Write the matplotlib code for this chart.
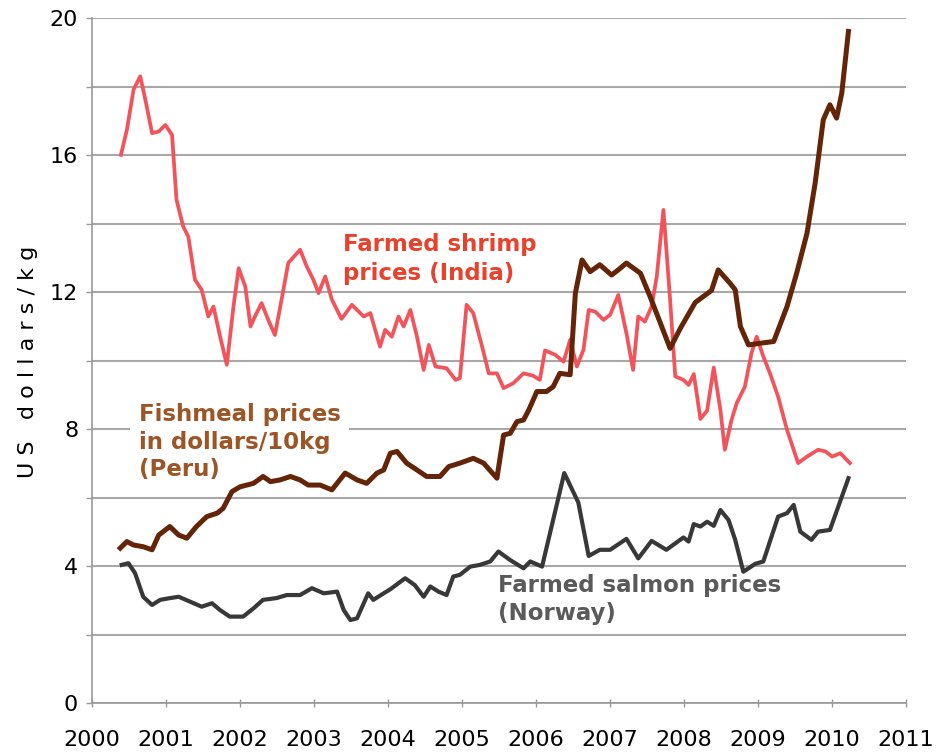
import numpy as np
import matplotlib.pyplot as plt

# Values (decimal year, US$/kg)
shrimp_year = [2000.39, 2000.47, 2000.56, 2000.65, 2000.72, 2000.81, 2000.90, 2000.99, 2001.08, 2001.14,
               2001.23, 2001.30, 2001.39, 2001.48, 2001.57, 2001.64, 2001.73, 2001.82, 2001.91, 2001.98,
               2002.07, 2002.14, 2002.20, 2002.29, 2002.38, 2002.47, 2002.56, 2002.65, 2002.81, 2002.90,
               2002.99, 2003.06, 2003.15, 2003.24, 2003.37, 2003.51, 2003.67, 2003.76, 2003.89, 2003.96,
               2004.05, 2004.14, 2004.21, 2004.30, 2004.39, 2004.48, 2004.55, 2004.64, 2004.79, 2004.91,
               2004.97, 2005.06, 2005.15, 2005.27, 2005.36, 2005.47, 2005.56, 2005.69, 2005.83, 2005.96,
               2006.05, 2006.12, 2006.26, 2006.37, 2006.46, 2006.55, 2006.64, 2006.71, 2006.80, 2006.91,
               2007.00, 2007.11, 2007.22, 2007.31, 2007.38, 2007.47, 2007.56, 2007.63, 2007.72, 2007.81,
               2007.88, 2007.99, 2008.06, 2008.13, 2008.22, 2008.31, 2008.40, 2008.49, 2008.55, 2008.64,
               2008.71, 2008.82, 2008.91, 2008.98, 2009.07, 2009.16, 2009.27, 2009.39, 2009.54, 2009.66,
               2009.81, 2009.91, 2010.00, 2010.11, 2010.24]
shrimp_val = [16.01, 16.74, 17.91, 18.30, 17.61, 16.64, 16.69, 16.88, 16.59, 14.70,
              13.92, 13.62, 12.36, 12.07, 11.29, 11.58, 10.70, 9.88, 11.58, 12.70,
              12.16, 11.00, 11.29, 11.68, 11.19, 10.75, 11.78, 12.85, 13.24, 12.75,
              12.36, 11.97, 12.46, 11.78, 11.22, 11.63, 11.29, 11.39, 10.41, 10.90,
              10.70, 11.29, 11.00, 11.48, 10.70, 9.73, 10.46, 9.83, 9.78, 9.44,
              9.49, 11.63, 11.39, 10.41, 9.63, 9.63, 9.20, 9.34, 9.63, 9.56,
              9.44, 10.30, 10.17, 9.97, 10.61, 9.83, 10.32, 11.48, 11.43, 11.19,
              11.34, 11.92, 10.80, 9.73, 11.29, 11.14, 11.58, 12.46, 14.40, 11.78,
              9.54, 9.44, 9.29, 9.61, 8.30, 8.54, 9.80, 8.56, 7.40, 8.27,
              8.76, 9.24, 10.22, 10.70, 10.12, 9.63, 8.95, 7.98, 7.01, 7.20,
              7.40, 7.35, 7.20, 7.30, 7.01]

fishmeal_year = [2000.38, 2000.47, 2000.56, 2000.69, 2000.81, 2000.90, 2001.05, 2001.17, 2001.28, 2001.41,
                 2001.55, 2001.69, 2001.77, 2001.89, 2002.00, 2002.18, 2002.31, 2002.41, 2002.54, 2002.68,
                 2002.81, 2002.92, 2003.08, 2003.24, 2003.42, 2003.58, 2003.71, 2003.85, 2003.94, 2004.03,
                 2004.12, 2004.25, 2004.39, 2004.52, 2004.70, 2004.82, 2004.97, 2005.15, 2005.29, 2005.47,
                 2005.56, 2005.65, 2005.74, 2005.83, 2005.90, 2006.01, 2006.14, 2006.23, 2006.32, 2006.46,
                 2006.53, 2006.62, 2006.73, 2006.86, 2007.02, 2007.11, 2007.22, 2007.41, 2007.54, 2007.68,
                 2007.81, 2007.95, 2008.15, 2008.37, 2008.46, 2008.62, 2008.69, 2008.76, 2008.87, 2009.03,
                 2009.21, 2009.39, 2009.52, 2009.66, 2009.77, 2009.88, 2009.97, 2010.06, 2010.13, 2010.22]
fishmeal_val = [4.53, 4.72, 4.62, 4.57, 4.48, 4.91, 5.16, 4.91, 4.82, 5.16,
                5.45, 5.55, 5.69, 6.18, 6.32, 6.42, 6.62, 6.47, 6.52, 6.62,
                6.52, 6.37, 6.37, 6.23, 6.72, 6.52, 6.42, 6.72, 6.81, 7.30,
                7.35, 7.01, 6.81, 6.62, 6.62, 6.91, 7.01, 7.15, 7.01, 6.57,
                7.83, 7.88, 8.22, 8.27, 8.56, 9.10, 9.10, 9.24, 9.63, 9.59,
                11.97, 12.94, 12.60, 12.80, 12.50, 12.65, 12.85, 12.55, 11.87, 11.09,
                10.36, 10.95, 11.70, 12.05, 12.65, 12.26, 12.07, 11.00, 10.46, 10.51,
                10.56, 11.58, 12.55, 13.72, 15.18, 17.03, 17.47, 17.08, 17.81, 19.61]

salmon_year = [2000.40, 2000.49, 2000.58, 2000.69, 2000.81, 2000.92, 2001.05, 2001.17, 2001.32, 2001.48,
               2001.62, 2001.73, 2001.86, 2002.04, 2002.18, 2002.31, 2002.49, 2002.63, 2002.81, 2002.97,
               2003.13, 2003.31, 2003.40, 2003.49, 2003.58, 2003.73, 2003.80, 2003.94, 2004.03, 2004.23,
               2004.36, 2004.48, 2004.57, 2004.68, 2004.79, 2004.88, 2004.97, 2005.11, 2005.24, 2005.38,
               2005.49, 2005.65, 2005.83, 2005.92, 2006.08, 2006.38, 2006.57, 2006.71, 2006.86, 2007.00,
               2007.22, 2007.38, 2007.56, 2007.76, 2007.99, 2008.06, 2008.13, 2008.22, 2008.31, 2008.40,
               2008.49, 2008.60, 2008.69, 2008.80, 2008.96, 2009.07, 2009.27, 2009.39, 2009.48, 2009.57,
               2009.72, 2009.81, 2009.97, 2010.22]
salmon_val = [4.04, 4.09, 3.80, 3.11, 2.87, 3.02, 3.07, 3.11, 2.97, 2.82,
              2.92, 2.72, 2.53, 2.53, 2.77, 3.02, 3.07, 3.16, 3.16, 3.36,
              3.21, 3.26, 2.72, 2.43, 2.48, 3.21, 3.02, 3.21, 3.33, 3.65,
              3.45, 3.11, 3.41, 3.26, 3.16, 3.70, 3.75, 3.99, 4.04, 4.14,
              4.43, 4.18, 3.94, 4.14, 3.99, 6.72, 5.86, 4.30, 4.48, 4.48,
              4.80, 4.23, 4.74, 4.48, 4.84, 4.72, 5.23, 5.16, 5.30, 5.18,
              5.64, 5.35, 4.77, 3.84, 4.07, 4.14, 5.45, 5.55, 5.79, 5.01,
              4.77, 5.01, 5.06, 6.57]

year_ticks = list(range(2000, 2012))

plt.rcParams['font.family'] = 'DejaVu Sans'
fig = plt.figure(figsize=(9.4, 7.53), dpi=100)
ax = fig.add_axes([0.098, 0.066, 0.866, 0.91])

ax.plot(shrimp_year, shrimp_val, color='#f2545b', lw=2.7, zorder=3, solid_joinstyle='round')
ax.plot(fishmeal_year, fishmeal_val, color='#632408', lw=3.6, zorder=4, solid_joinstyle='round')
ax.plot(salmon_year, salmon_val, color='#383838', lw=3.0, zorder=3, solid_joinstyle='round')

ax.set_xlim(2000, 2011)
ax.set_ylim(0, 20)
ax.set_xticks(year_ticks)
ax.set_yticks(range(0, 21, 4))
ax.set_yticks(range(2, 21, 4), minor=True)
ax.grid(axis='y', which='both', color='#a8a8a8', lw=1.5, zorder=0)
ax.set_axisbelow(True)

for side in ['top', 'right']:
    ax.spines[side].set_visible(False)
for side in ['left', 'bottom']:
    ax.spines[side].set_color('#999999')
    ax.spines[side].set_linewidth(1.2)

ax.tick_params(axis='x', direction='inout', length=6, width=1, color='#999999',
               labelsize=16, pad=16)
ax.tick_params(axis='y', which='both', direction='out', length=4, width=1, color='#999999',
               labelsize=16, pad=6)

fig.text(0.03, 0.52, 'U S   d o l l a r s / k g', rotation=90, fontsize=16,
         ha='center', va='center')

ax.text(2003.39, 12.36, 'Farmed shrimp\nprices (India)', color='#e8412c', fontsize=16.5,
        fontweight='bold', linespacing=1.3, zorder=2)
ax.text(2000.63, 6.62, 'Fishmeal prices\nin dollars/10kg\n(Peru)', color='#9c5524', fontsize=16.5,
        fontweight='bold', linespacing=1.25, zorder=2,
        bbox=dict(facecolor='white', edgecolor='none', pad=6))
ax.text(2005.48, 2.43, 'Farmed salmon prices\n(Norway)', color='#5a5a5a', fontsize=16.5,
        fontweight='bold', linespacing=1.3, zorder=2)

plt.savefig('out.png', dpi=100)
